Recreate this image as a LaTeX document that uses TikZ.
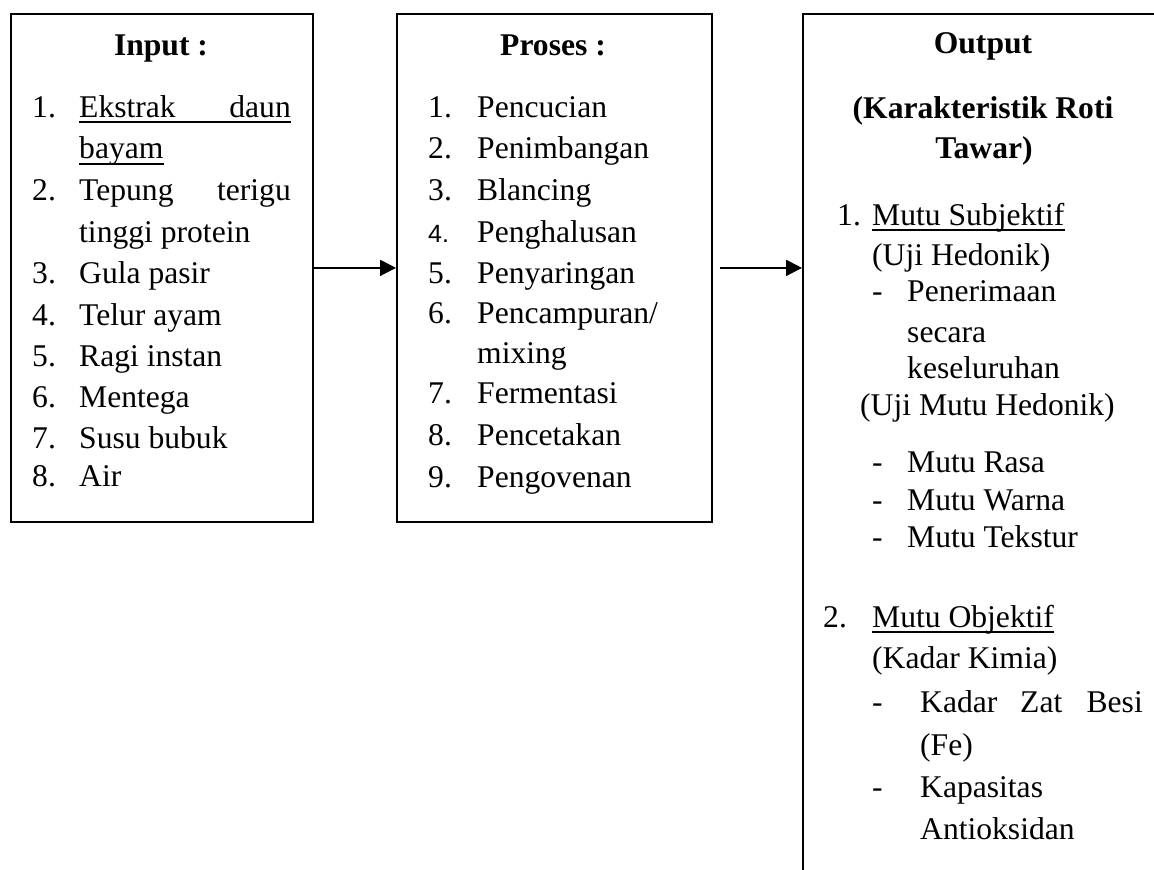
\documentclass[tikz,border=0pt]{standalone}
\usepackage{fontspec}
\setmainfont{Liberation Serif}
\newfontfamily\arialfont{Liberation Sans}
\usetikzlibrary{arrows.meta}
\newcommand\bodyfnt{\fontsize{31.6pt}{38pt}\selectfont}
\begin{document}
\begin{tikzpicture}[x=1pt,y=-1pt,
  box/.style={draw=black, line width=1.8pt, inner sep=0pt, anchor=north west},
  txt/.style={inner sep=0pt, anchor=base west, font=\bodyfnt},
  txtr/.style={inner sep=0pt, anchor=base east, font=\bodyfnt},
  ttl/.style={inner sep=0pt, anchor=base, font=\bodyfnt\bfseries},
  arr/.style={line width=2pt, -{Triangle[length=16pt,width=16pt]}},
  uline/.style={line width=1.3pt}]
\clip (0,0) rectangle (1154,870);
\fill[white] (0,0) rectangle (1154,870);
% boxes
\node[box, minimum width=302pt, minimum height=508pt] (inbox) at (10,13) {};
\node[box, minimum width=315pt, minimum height=508pt] (prbox) at (396,13) {};
\node[box, minimum width=420pt, minimum height=900pt] (outbox) at (802,13) {};
% arrows
\draw[arr] (inbox.east) -- (prbox.west);
\draw[arr] ([xshift=7pt]prbox.east) -- (prbox.east -| outbox.west);
% Input
\node[ttl] (inT) at (161,55) {Input :};
\node[txt] (in1n) at (32,117) {1.};
\node[txt] (in1a) at (79,117) {Ekstrak};
\node[txtr] (in1b) at (291,117) {daun};
\node[txt] (in1c) at (79,158) {bayam};
\node[txt] (in2n) at (32,200) {2.};
\node[txt] (in2a) at (79,200) {Tepung};
\node[txtr] (in2b) at (291,200) {terigu};
\node[txt] (in2c) at (79,242) {tinggi protein};
\node[txt] (in3n) at (32,283) {3.};
\node[txt] (in3) at (79,283) {Gula pasir};
\node[txt] (in4n) at (32,325) {4.};
\node[txt] (in4) at (79,325) {Telur ayam};
\node[txt] (in5n) at (32,366) {5.};
\node[txt] (in5) at (79,366) {Ragi instan};
\node[txt] (in6n) at (32,407) {6.};
\node[txt] (in6) at (79,407) {Mentega};
\node[txt] (in7n) at (32,448) {7.};
\node[txt] (in7) at (79,448) {Susu bubuk};
\node[txt] (in8n) at (32,486) {8.};
\node[txt] (in8) at (79,486) {Air};
\draw[uline] ([yshift=-5pt]in1a.base west) -- ([yshift=-5pt]in1b.base east);
\draw[uline] ([yshift=-6pt]in1c.base west) -- ([yshift=-6pt]in1c.base east);
% Proses
\node[ttl] (prT) at (553,55) {Proses :};
\node[txt] (pr1n) at (428,117) {1.};
\node[txt] (pr1) at (477,117) {Pencucian};
\node[txt] (pr2n) at (428,158) {2.};
\node[txt] (pr2) at (477,158) {Penimbangan};
\node[txt] (pr3n) at (428,200) {3.};
\node[txt] (pr3) at (477,200) {Blancing};
\node[txt, font=\arialfont\fontsize{25pt}{30pt}\selectfont] (pr4n) at (428,242) {4.};
\node[txt] (pr4) at (477,242) {Penghalusan};
\node[txt] (pr5n) at (428,283) {5.};
\node[txt] (pr5) at (477,283) {Penyaringan};
\node[txt] (pr6n) at (428,323) {6.};
\node[txt] (pr6) at (477,323) {Pencampuran/};
\node[txt] (pr6b) at (477,363) {mixing};
\node[txt] (pr7n) at (428,403) {7.};
\node[txt] (pr7) at (477,403) {Fermentasi};
\node[txt] (pr8n) at (428,445) {8.};
\node[txt] (pr8) at (477,445) {Pencetakan};
\node[txt] (pr9n) at (428,487) {9.};
\node[txt] (pr9) at (477,487) {Pengovenan};
% Output
\node[ttl] (ouT) at (983,53) {Output};
\node[ttl] (ouT2) at (983,118) {(Karakteristik Roti};
\node[ttl] (ouT3) at (984,158) {Tawar)};
\node[txt] (o1n) at (837,225) {1.};
\node[txt] (o1) at (872,225) {Mutu Subjektif};
\draw[uline] ([yshift=-5pt]o1.base west) -- ([yshift=-5pt]o1.base east);
\node[txt] (o1a) at (872,265) {(Uji Hedonik)};
\node[txt] (o1d1) at (872,301) {-};
\node[txt] (o1b) at (907,301) {Penerimaan};
\node[txt] (o1c) at (907,342) {secara};
\node[txt] (o1e) at (907,378) {keseluruhan};
\node[txt] (o1f) at (860,415) {(Uji Mutu Hedonik)};
\node[txt] (o1d2) at (872,472) {-};
\node[txt] (o1g) at (907,472) {Mutu Rasa};
\node[txt] (o1d3) at (872,510) {-};
\node[txt] (o1h) at (907,510) {Mutu Warna};
\node[txt] (o1d4) at (872,547) {-};
\node[txt] (o1i) at (907,547) {Mutu Tekstur};
\node[txt] (o2n) at (823,627) {2.};
\node[txt] (o2) at (872,627) {Mutu Objektif};
\draw[uline] ([yshift=-5pt]o2.base west) -- ([yshift=-5pt]o2.base east);
\node[txt] (o2a) at (872,668) {(Kadar Kimia)};
\node[txt] (o2d1) at (872,712) {-};
\node[txt] (o2b) at (920,712) {Kadar};
\node[txt] (o2c) at (1020,712) {Zat};
\node[txtr] (o2e) at (1143,712) {Besi};
\node[txt] (o2f) at (920,755) {(Fe)};
\node[txt] (o2d2) at (872,797) {-};
\node[txt] (o2g) at (920,797) {Kapasitas};
\node[txt] (o2h) at (920,839) {Antioksidan};
\end{tikzpicture}
\end{document}
